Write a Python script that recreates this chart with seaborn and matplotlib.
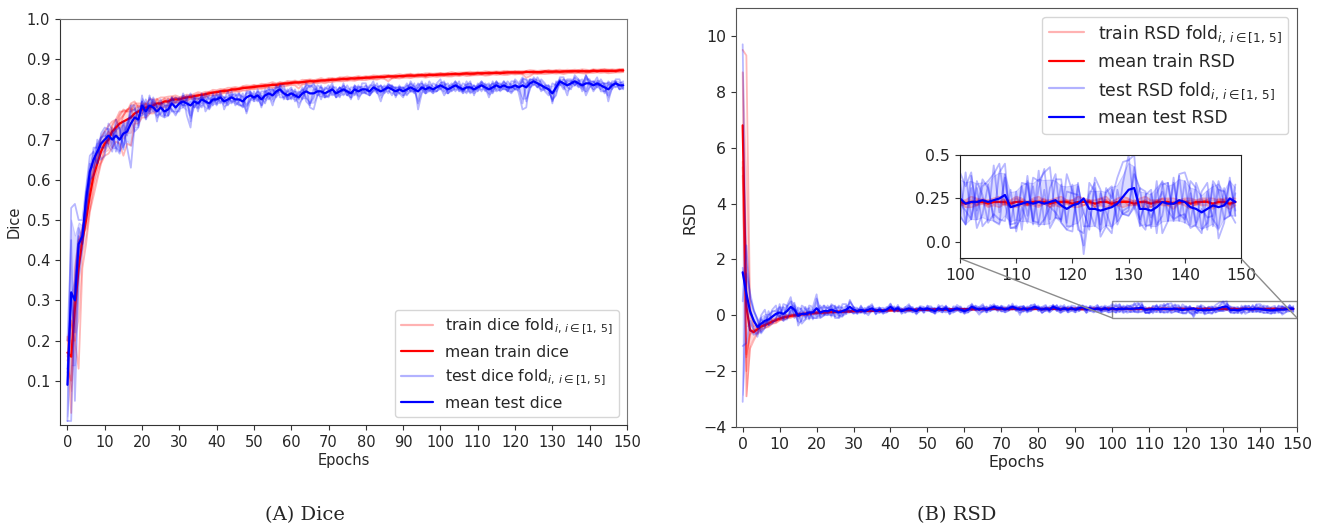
import numpy as np
import matplotlib
matplotlib.use("Agg")
import matplotlib.pyplot as plt
import seaborn as sns
from matplotlib.lines import Line2D
from mpl_toolkits.axes_grid1.inset_locator import mark_inset

EPOCHS = list(range(150))

# ---------------- Dice (panel A) ----------------
TRAIN_DICE_MEAN = [
    0.17, 0.16, 0.28, 0.38, 0.45, 0.50, 0.56, 0.61, 0.64, 0.67,
    0.69, 0.70, 0.72, 0.73, 0.74, 0.745, 0.75, 0.755, 0.765, 0.77,
    0.775, 0.78, 0.78, 0.785, 0.79, 0.79, 0.795, 0.795, 0.80, 0.80,
    0.80, 0.803, 0.805, 0.806, 0.808, 0.81, 0.811, 0.813, 0.815, 0.817,
    0.818, 0.82, 0.821, 0.822, 0.824, 0.825, 0.826, 0.828, 0.829, 0.83,
    0.831, 0.832, 0.833, 0.834, 0.835, 0.836, 0.836, 0.838, 0.839, 0.84,
    0.841, 0.842, 0.842, 0.843, 0.844, 0.845, 0.845, 0.846, 0.847, 0.847,
    0.848, 0.849, 0.849, 0.85, 0.851, 0.851, 0.852, 0.852, 0.853, 0.853,
    0.854, 0.854, 0.855, 0.855, 0.856, 0.856, 0.857, 0.857, 0.857, 0.858,
    0.858, 0.859, 0.859, 0.859, 0.86, 0.86, 0.86, 0.861, 0.861, 0.861,
    0.862, 0.862, 0.862, 0.863, 0.863, 0.863, 0.864, 0.864, 0.864, 0.864,
    0.865, 0.865, 0.865, 0.865, 0.866, 0.866, 0.866, 0.866, 0.867, 0.867,
    0.867, 0.867, 0.867, 0.868, 0.868, 0.868, 0.868, 0.868, 0.869, 0.869,
    0.869, 0.869, 0.869, 0.869, 0.87, 0.87, 0.87, 0.87, 0.87, 0.87,
    0.87, 0.871, 0.871, 0.871, 0.871, 0.871, 0.871, 0.871, 0.872, 0.872]

TEST_DICE_MEAN = [
    0.09, 0.32, 0.30, 0.44, 0.46, 0.55, 0.62, 0.65, 0.67, 0.69,
    0.70, 0.71, 0.70, 0.71, 0.70, 0.715, 0.72, 0.74, 0.755, 0.75,
    0.785, 0.77, 0.785, 0.78, 0.77, 0.78, 0.77, 0.775, 0.79, 0.78,
    0.79, 0.795, 0.79, 0.785, 0.795, 0.79, 0.80, 0.795, 0.79, 0.80,
    0.80, 0.805, 0.795, 0.80, 0.805, 0.80, 0.80, 0.795, 0.805, 0.81,
    0.805, 0.81, 0.80, 0.81, 0.815, 0.81, 0.82, 0.825, 0.815, 0.81,
    0.815, 0.81, 0.805, 0.815, 0.82, 0.815, 0.815, 0.82, 0.82, 0.815,
    0.82, 0.825, 0.815, 0.82, 0.825, 0.82, 0.815, 0.825, 0.82, 0.825,
    0.825, 0.82, 0.83, 0.825, 0.82, 0.825, 0.83, 0.825, 0.82, 0.825,
    0.82, 0.825, 0.83, 0.825, 0.82, 0.83, 0.825, 0.83, 0.825, 0.83,
    0.835, 0.83, 0.825, 0.83, 0.835, 0.83, 0.825, 0.83, 0.83, 0.825,
    0.83, 0.835, 0.83, 0.825, 0.83, 0.835, 0.83, 0.835, 0.83, 0.83,
    0.835, 0.83, 0.835, 0.83, 0.84, 0.845, 0.84, 0.835, 0.83, 0.825,
    0.815, 0.83, 0.845, 0.84, 0.835, 0.84, 0.845, 0.84, 0.835, 0.84,
    0.84, 0.835, 0.84, 0.835, 0.83, 0.825, 0.835, 0.84, 0.835, 0.835]

# per-fold offsets from the mean, in thousandths of Dice
TRAIN_DICE_FOLD1 = [
    40, -140, 100, 70, 30, 40, 50, 40, 30, 35,
    30, 35, 25, 20, 30, 25, 20, 15, 25, 20,
    15, 10, 20, 15, 10, 15, 10, 12, 8, 10,
    6, 5, 7, 4, 6, 8, 5, 6, 4, 7,
    5, 6, 4, 7, 5, 6, 3, 5, 6, 4,
    5, 3, 6, 4, 5, 7, 4, 5, 3, 6,
    4, 5, 3, 6, 4, 5, 3, 4, 6, 3,
    5, 4, 3, 5, 4, 6, 3, 4, 5, 3,
    4, 3, 5, 4, 3, 5, 4, 3, 4, 5,
    3, 4, 5, 3, 4, 3, 5, 4, 3, 4,
    4, 3, 4, 5, 3, 4, 3, 4, 5, 3,
    4, 3, 5, 4, 3, 4, 3, 5, 4, 3,
    4, 3, 4, 3, 5, 4, 3, 4, 3, 4,
    3, 4, 5, 3, 4, 3, 4, 3, 5, 4,
    3, 4, 3, 4, 5, 3, 4, 3, 4, 3]
TRAIN_DICE_FOLD2 = [
    30, 90, -80, -250, -70, -60, -40, -50, -40, -30,
    -30, -35, -40, -35, -50, -85, -60, -70, -25, -30,
    -20, -25, -15, -20, -15, -10, -15, -12, -10, -8,
    -8, -6, -9, -5, -7, -10, -6, -8, -5, -7,
    -6, -8, -5, -7, -6, -5, -8, -6, -7, -5,
    -6, -5, -7, -6, -5, -8, -6, -5, -7, -6,
    -5, -7, -15, -6, -5, -6, -4, -6, -5, -7,
    -5, -6, -4, -5, -6, -4, -5, -6, -4, -5,
    -6, -4, -5, -6, -4, -5, -12, -5, -4, -6,
    -4, -5, -6, -4, -5, -4, -6, -5, -4, -5,
    -5, -4, -5, -6, -4, -5, -4, -6, -5, -4,
    -5, -4, -6, -5, -4, -5, -4, -5, -6, -4,
    -5, -4, -5, -14, -10, -4, -5, -4, -6, -5,
    -4, -5, -4, -6, -5, -4, -5, -4, -5, -6,
    -4, -5, -4, -5, -4, -6, -5, -4, -5, -4]
TRAIN_DICE_FOLD3 = [
    -40, -60, 50, 40, 20, 30, 30, 20, 25, 20,
    10, -10, 15, 20, -10, 15, 25, 20, 10, 15,
    5, 10, -5, 8, -10, 5, 8, -5, 6, 4,
    2, -3, 3, -2, 1, 3, -2, 2, -1, 3,
    -2, 2, -3, 1, 2, -2, 3, -1, 2, -3,
    1, 2, -2, 3, -1, 2, -3, 1, 2, -2,
    3, -1, 2, -2, 1, 3, -2, 2, -1, 2,
    -2, 3, -1, 2, -3, 1, 2, -2, 3, -1,
    2, -2, 1, 3, -2, 2, -1, 2, -3, 1,
    2, -1, 3, -2, 1, 2, -2, 3, -1, 2,
    -2, 1, 3, -1, 2, -2, 1, 2, -3, 1,
    2, -2, 1, 3, -1, 2, -2, 1, 2, -1,
    3, -2, 1, 2, -1, 2, -3, 1, 2, -2,
    1, 3, -1, 2, -2, 1, 2, -1, 3, -2,
    1, 2, -2, 1, 3, -1, 2, -2, 1, 2]
TRAIN_DICE_FOLD4 = [
    -10, 60, 20, 70, 10, -20, -30, -20, -15, -25,
    -15, 20, -10, 5, 20, 30, 20, 35, 30, 10,
    10, -5, 10, -8, 12, -6, -4, 8, -6, 5,
    -4, 1, -3, 2, -5, -1, 3, -4, 2, -2,
    1, -4, 2, -3, 3, -1, -4, 2, -2, 1,
    -3, 2, -1, -4, 2, -2, 1, -3, 2, -1,
    -2, 2, -4, 1, -3, 2, -1, -3, 1, -2,
    2, -3, 1, -2, 2, -4, 1, -1, -3, 2,
    -2, 1, -3, 2, -1, -2, 2, -4, 1, -1,
    -3, 2, -1, 1, -2, 3, -3, 1, -2, 2,
    -1, -3, 2, -2, 1, -1, -3, 2, -1, -2,
    1, -3, 2, -1, -2, 1, -3, 2, -2, 1,
    -2, 1, -3, 2, -1, -2, 1, -3, 2, -1,
    -3, 1, -2, 2, -1, -3, 1, -2, 2, -1,
    -2, 1, -3, 2, -1, -2, 1, -2, 2, -1]
TRAIN_DICE_FOLD5 = [
    -20, 40, -80, 50, -10, 10, 20, 10, 20, 10,
    5, -10, 10, -10, 10, 15, 25, 25, -20, 5,
    -10, 8, -10, 5, 3, -4, 2, -3, 2, -6,
    3, 5, -1, 4, 2, -2, 3, 1, 4, -1,
    3, 1, 4, -1, 2, 3, 0, 4, 1, 2,
    4, 0, 3, 1, -1, 3, 2, 4, 0, 3,
    1, 3, 0, 2, 4, 1, 3, 0, 2, 1,
    3, 0, 2, 4, 1, 2, 0, 3, 1, 2,
    0, 3, 2, 1, 3, 0, 2, 1, 3, 0,
    2, 1, 3, 0, 2, 1, 3, 0, 2, 1,
    3, 0, 2, 1, 3, 1, 0, 2, 1, 3,
    0, 2, 1, 3, 0, 2, 1, 3, 0, 2,
    1, 3, 0, 2, 1, 3, 0, 2, 1, 3,
    0, 2, 1, 3, 0, 2, 1, 3, 0, 2,
    1, 3, 0, 2, 1, 3, 0, 2, 1, 3]

TEST_DICE_FOLD1 = [
    -90, 210, 240, 60, 40, 30, 40, 20, -30, 25,
    30, 15, -20, 40, 25, -35, 10, 45, 30, -15,
    25, -10, 20, 15, -25, 10, 20, -15, 5, 25,
    10, -15, 20, -40, 5, 15, -10, 20, 10, -5,
    15, -10, 5, 20, -15, 10, 15, -5, -35, 10,
    -10, 15, 5, -20, 10, 15, -5, 10, 20, -10,
    10, -15, 5, 15, -25, -30, 10, 5, -20, 15,
    5, 15, -10, 10, -5, 15, 5, -15, 10, 5,
    -10, 15, 5, -5, 15, -10, 5, 10, -15, 5,
    10, -5, 15, 5, -30, 10, -5, 15, 5, -10,
    5, 15, -10, 5, 10, -5, 15, 5, -10, 10,
    -5, 10, 5, 15, -10, 5, 10, -5, 15, 5,
    -10, 5, -45, 10, 5, -10, 15, 5, -5, 10,
    -25, 10, 5, -5, 15, 10, -10, 5, 15, -20,
    5, 10, -5, 15, 5, -15, 10, 5, -10, 5]
TEST_DICE_FOLD2 = [
    110, 130, -250, -90, -30, -30, -20, -40, 20, -40,
    -40, 30, 25, -30, -35, 20, -40, -110, -20, 30,
    -20, 30, -15, 25, 10, -20, -15, 25, -20, -10,
    -20, 15, -30, -55, 10, -20, 15, -25, -5, 15,
    -10, 15, -20, -5, 15, -15, -5, 20, -40, -15,
    15, -10, 20, 10, -15, 5, 15, -20, -10, 15,
    -15, 10, -25, -10, 15, -35, -40, -10, 15, -10,
    -10, 5, 15, -15, 10, -10, 15, 5, -10, 15,
    15, -10, -5, 15, -10, 5, -15, 10, 5, -10,
    -15, 10, -10, 15, -45, -15, 10, -10, 15, 5,
    -10, 5, 15, -10, -5, 15, -10, 5, 15, -15,
    10, -15, 10, -10, 15, -10, 5, 10, -10, 15,
    10, -15, -60, -50, 10, 5, -10, 15, 10, -5,
    -15, -20, 10, 15, -5, -15, 10, -10, 5, -30,
    -10, 5, 15, -10, 10, -30, -5, 10, 15, -10]
TEST_DICE_FOLD3 = [
    -90, -320, 40, 20, -20, 20, -30, 10, -30, 10,
    20, -25, -30, 15, 30, -40, 25, 20, -35, -20,
    10, -20, 25, -10, 15, 20, -10, -15, 15, 10,
    15, -10, 10, 30, -15, 5, -20, 10, -15, 10,
    -15, 5, 10, -15, 5, 15, -10, -15, 10, 5,
    -5, 10, -15, 5, 15, -10, 10, 5, -15, 10,
    15, -5, 10, -15, 5, 20, 15, -10, -5, 10,
    15, -10, 5, 10, -15, 5, -10, 10, 5, -10,
    -5, 10, 15, -10, 5, 10, -5, -15, 10, 5,
    5, 15, -10, -5, 20, -5, 15, -5, -10, 10,
    15, -10, 5, 10, -15, 5, -5, 15, -5, 10,
    -10, 5, -10, 5, 10, -15, -5, 10, 5, -10,
    15, 10, 20, -35, -15, 10, 5, -10, 5, 10,
    -20, 15, -10, 10, 5, -5, 15, 10, -15, 10,
    10, -10, 5, -15, -10, 10, 5, -10, 5, 10]
TEST_DICE_FOLD4 = [
    40, -20, 50, 40, -10, 20, 20, -20, 30, -10,
    -20, -10, 20, -40, 10, 30, -10, 30, 20, 10,
    -25, 15, -20, 10, -10, -15, 15, 10, -15, -20,
    -10, 20, 5, -25, 15, -10, 10, -5, 20, -15,
    10, -15, 10, 5, -10, -5, 15, 10, -20, -10,
    5, -15, 10, -10, -5, 15, -15, 10, 5, -10,
    -10, 15, -5, 10, -15, -25, -10, 15, 10, -5,
    -15, 5, -10, -5, 15, -10, 5, -10, 15, -5,
    10, -5, -10, 5, 15, -5, 10, 5, -10, 10,
    -10, -5, 10, -10, 10, 15, -10, 5, -5, -10,
    -5, 10, -10, -5, 10, -10, 5, -15, 10, -5,
    5, 10, -5, 10, -15, 10, -10, -5, -10, 5,
    -10, -5, 15, 20, -10, -5, -10, 5, -10, -15,
    25, 5, -5, -15, 10, 5, -10, 10, -5, 20,
    -5, 10, -10, 5, 10, 15, -10, 5, -10, -5]
TEST_DICE_FOLD5 = [
    30, 0, -80, -30, 20, -40, -10, 30, 10, 15,
    10, -10, 5, 15, -30, 0, 15, 15, 5, -5,
    10, -15, -10, 20, 10, 5, -10, 5, 15, -5,
    5, -10, -5, 10, -15, 10, 5, 0, -10, -5,
    0, 5, -5, -5, 5, -5, -15, -10, 15, 10,
    -5, 0, -20, 15, -5, -25, -5, -5, 0, -5,
    0, -5, 15, 0, 20, 15, 25, 0, 0, -10,
    5, -15, 0, 10, -5, 0, -15, 10, -20, -5,
    -10, -10, -5, -5, -25, 0, 5, 5, 10, -10,
    10, -15, -5, -5, 10, -5, -10, -5, -5, 5,
    -5, -20, 0, 0, 0, -5, -5, 0, -15, 0,
    0, 0, 0, -20, 0, 10, 0, -10, -5, -15,
    -5, 5, 10, 5, 10, 0, 0, -15, 0, 0,
    5, -10, 0, -5, -25, 5, -5, -5, 0, 20,
    0, -15, -5, 5, -15, 20, 0, 0, 0, 0]

# ---------------- RSD (panel B) ----------------
TRAIN_RSD_MEAN = [
    6.8, 0.3, -0.54, -0.6, -0.5, -0.4, -0.35, -0.3, -0.22, -0.18,
    -0.12, -0.08, -0.05, -0.02, 0.0, 0.02, 0.04, 0.05, 0.07, 0.08,
    0.09, 0.1, 0.1, 0.11, 0.12, 0.12, 0.13, 0.13, 0.14, 0.14,
    0.15, 0.15, 0.15, 0.16, 0.16, 0.16, 0.17, 0.17, 0.17, 0.18,
    0.18, 0.18, 0.18, 0.19, 0.19, 0.19, 0.19, 0.2, 0.2, 0.2,
    0.2, 0.2, 0.21, 0.21, 0.21, 0.21, 0.21, 0.21, 0.22, 0.22,
    0.22, 0.22, 0.22, 0.22, 0.22, 0.22, 0.22, 0.23, 0.23, 0.22,
    0.23, 0.23, 0.22, 0.23, 0.23, 0.23, 0.22, 0.23, 0.23, 0.23,
    0.23, 0.22, 0.23, 0.23, 0.23, 0.23, 0.22, 0.23, 0.23, 0.23,
    0.23, 0.23, 0.22, 0.23, 0.23, 0.23, 0.23, 0.22, 0.23, 0.23,
    0.23, 0.22, 0.23, 0.23, 0.23, 0.22, 0.23, 0.23, 0.23, 0.22,
    0.23, 0.23, 0.22, 0.23, 0.23, 0.23, 0.22, 0.23, 0.23, 0.23,
    0.22, 0.23, 0.23, 0.23, 0.22, 0.23, 0.23, 0.22, 0.23, 0.23,
    0.23, 0.22, 0.23, 0.23, 0.22, 0.23, 0.23, 0.23, 0.22, 0.23,
    0.23, 0.22, 0.23, 0.23, 0.23, 0.22, 0.23, 0.23, 0.22, 0.23]

TEST_RSD_MEAN = [
    1.54, 0.78, 0.15, -0.2, -0.42, -0.3, -0.2, -0.15, -0.05, 0.05,
    0.1, 0.05, 0.15, 0.3, 0.2, -0.02, 0.05, 0.05, 0.1, 0.1,
    0.25, 0.1, 0.15, 0.15, 0.2, 0.15, 0.1, 0.15, 0.2, 0.3,
    0.2, 0.15, 0.2, 0.15, 0.2, 0.25, 0.15, 0.2, 0.15, 0.2,
    0.3, 0.2, 0.25, 0.15, 0.2, 0.25, 0.2, 0.15, 0.25, 0.2,
    0.25, 0.2, 0.15, 0.25, 0.2, 0.25, 0.15, 0.2, 0.25, 0.2,
    0.15, 0.2, 0.3, 0.25, 0.2, 0.25, 0.2, 0.25, 0.3, 0.25,
    0.25, 0.2, 0.25, 0.3, 0.25, 0.2, 0.25, 0.2, 0.25, 0.3,
    0.25, 0.2, 0.25, 0.2, 0.3, 0.25, 0.2, 0.25, 0.2, 0.25,
    0.2, 0.25, 0.3, 0.2, 0.25, 0.2, 0.25, 0.2, 0.25, 0.2,
    0.25, 0.22, 0.23, 0.23, 0.24, 0.23, 0.24, 0.25, 0.27, 0.2,
    0.21, 0.22, 0.23, 0.22, 0.23, 0.22, 0.23, 0.24, 0.21, 0.19,
    0.21, 0.22, 0.25, 0.19, 0.19, 0.18, 0.19, 0.2, 0.22, 0.26,
    0.3, 0.31, 0.19, 0.19, 0.18, 0.2, 0.23, 0.22, 0.22, 0.24,
    0.23, 0.2, 0.19, 0.17, 0.19, 0.21, 0.2, 0.21, 0.25, 0.23]

# per-fold offsets from the mean, in hundredths of RSD
TRAIN_RSD_FOLD1 = [
    270, 900, 85, 20, 15, 10, 12, 8, 10, 6,
    8, 5, 7, 4, 6, 5, 4, 6, 3, 5,
    4, 3, 5, 3, 4, 2, 3, 4, 2, 3,
    2, 3, 1, 2, 3, 2, 1, 3, 2, 2,
    3, 1, 2, 2, 3, 1, 2, 3, 2, 1,
    2, 3, 2, 1, 2, 3, 1, 2, 2, 3,
    1, 2, 3, 2, 1, 2, 3, 2, 1, 2,
    3, 2, 1, 2, 2, 3, 1, 2, 3, 2,
    1, 2, 2, 3, 1, 2, 3, 2, 1, 2,
    2, 3, 1, 2, 3, 2, 1, 2, 2, 3,
    1, 2, 3, 2, 1, 2, 2, 3, 1, 2,
    3, 2, 1, 2, 3, 1, 2, 2, 3, 1,
    2, 3, 2, 1, 2, 2, 3, 1, 2, 3,
    2, 1, 2, 3, 2, 1, 2, 2, 3, 1,
    2, 3, 1, 2, 2, 3, 1, 2, 3, 2]
TRAIN_RSD_FOLD2 = [
    190, -320, -65, -30, -15, -12, -10, -12, -8, -10,
    -6, -8, -5, -7, -4, -6, -5, -4, -6, -3,
    -4, -3, -5, -2, -4, -3, -2, -4, -3, -2,
    -2, -3, -1, -2, -3, -2, -1, -3, -2, -2,
    -3, -1, -2, -2, -3, -1, -2, -3, -2, -1,
    -2, -3, -2, -1, -2, -3, -1, -2, -2, -3,
    -1, -2, -3, -2, -1, -2, -3, -2, -1, -2,
    -3, -2, -1, -2, -2, -3, -1, -2, -3, -2,
    -1, -2, -2, -3, -1, -2, -3, -2, -1, -2,
    -2, -3, -1, -2, -3, -2, -1, -2, -2, -3,
    -1, -2, -3, -2, -1, -2, -2, -3, -1, -2,
    -3, -2, -1, -2, -3, -1, -2, -2, -3, -1,
    -2, -3, -2, -1, -2, -2, -3, -1, -2, -3,
    -2, -1, -2, -3, -2, -1, -2, -2, -3, -1,
    -2, -3, -1, -2, -2, -3, -1, -2, -3, -2]
TRAIN_RSD_FOLD3 = [
    -130, -230, -5, 10, -10, 8, -6, 5, -4, 6,
    -5, 4, -3, 5, -4, 3, -2, 4, -3, 2,
    3, -2, 2, -3, 1, 2, -2, 1, 2, -1,
    1, -1, 2, 0, -2, 1, -1, 2, 0, -1,
    2, 0, -1, 1, -2, 2, 0, -1, 1, 0,
    -1, 2, 0, -2, 1, -1, 2, 0, -1, 1,
    0, -2, 1, 2, -1, 0, 1, -2, 2, 0,
    -1, 1, 0, 2, -2, 1, -1, 0, 2, -1,
    1, 0, -2, 1, 2, -1, 0, 1, -2, 2,
    0, -1, 1, 0, 2, -2, 1, -1, 0, 2,
    -1, 1, 0, -2, 2, 1, -1, 0, 1, -2,
    2, 0, -1, 1, 0, 2, -2, 1, -1, 0,
    2, -1, 1, 0, -2, 2, 1, -1, 0, 1,
    -2, 2, 0, -1, 1, 0, 2, -2, 1, -1,
    0, 2, -1, 1, 0, -2, 2, 1, -1, 0]
TRAIN_RSD_FOLD4 = [
    -150, -180, 5, -5, 12, -6, 8, -4, 6, -5,
    4, -3, 5, -2, 3, -4, 2, -3, 4, -2,
    -3, 2, -2, 3, -1, -2, 2, -1, -2, 1,
    -1, 0, -2, 1, 1, -1, 0, -2, 1, 0,
    -1, 1, 0, -2, 1, -1, 0, 1, -2, 0,
    1, -1, 0, 1, -2, 0, -1, 1, 0, -2,
    1, 0, -1, -2, 1, 0, -1, 1, 0, -1,
    1, -2, 0, -1, 1, 0, -2, 1, -1, 0,
    -1, 1, 0, -2, 0, 1, -1, 0, 1, -2,
    0, 1, -1, 0, -2, 1, 0, -1, 1, 0,
    -2, 0, 1, -1, 0, -1, 1, 0, -2, 1,
    0, -1, 1, 0, -2, 0, 1, -1, 0, 1,
    -1, 0, -2, 1, 0, -1, 0, 1, -2, 0,
    1, -1, 0, 1, -2, 0, -1, 1, 0, -1,
    1, 0, -2, 0, 1, -1, 0, -1, 1, 0]
TRAIN_RSD_FOLD5 = [
    -180, -170, -15, 5, -2, 0, -4, 3, -4, 3,
    -1, 2, -4, 0, -1, 2, 1, -3, 2, -2,
    0, 0, 0, -1, 0, 1, -1, 0, 1, -1,
    0, 1, 0, -1, 1, 0, 1, -1, 0, 1,
    -1, 0, 1, 0, 1, -1, 0, 0, 1, 0,
    0, -1, 1, 0, 1, 0, -1, 0, 1, 1,
    -1, 1, 0, 0, 1, 0, 0, -1, 1, 0,
    1, 0, -1, 1, 0, 0, 1, -1, 0, 1,
    0, -1, 1, 0, 0, 1, 0, -1, 1, 0,
    1, 0, 0, -1, 1, 0, 1, 0, -1, 0,
    1, 0, -1, 1, 0, 1, 0, 0, -1, 1,
    0, 1, -1, 0, 1, 0, 0, -1, 1, 0,
    1, -1, 0, 1, 0, 0, 1, -1, 0, 1,
    0, 0, -1, 1, 0, 1, 0, -1, 1, 0,
    0, 1, -1, 0, 1, 0, 0, 1, -1, 0]

TEST_RSD_FOLD1 = [
    816, -38, -65, -50, -20, 30, 40, -20, 25, 30,
    -25, 35, 20, 35, -20, 30, 15, -10, 25, 20,
    50, -15, 20, 10, 15, -20, 25, 10, -15, 20,
    10, -10, 15, -5, 10, 15, -10, 5, 12, -8,
    10, -5, 12, -10, 8, 15, -8, 10, 5, -12,
    8, 12, -10, 5, 15, -8, 10, -5, 12, 8,
    -10, 12, 8, -5, 10, 15, -8, 5, 10, -12,
    8, 10, -5, 12, -8, 10, 5, -10, 12, 8,
    -8, 10, 12, -5, 8, -10, 15, 5, -8, 10,
    12, -8, 5, 10, -10, 8, 12, -5, 10, 8,
    15, 10, 17, -10, 8, 12, 15, 20, -5, -12,
    -13, 10, -8, 15, 12, 18, 20, -10, -8, 20,
    8, -12, -27, 15, 10, -8, 12, 5, 15, 20,
    17, 19, -10, 8, 12, -15, 10, 12, -8, 15,
    17, 10, -8, 12, 15, -12, 10, 8, -10, 5]
TEST_RSD_FOLD2 = [
    -464, 72, 65, 40, 25, -35, -25, 30, -20, -25,
    30, -20, -30, -10, 25, -35, -20, 25, -20, 15,
    -20, 25, -10, -15, 20, 15, -10, -20, 15, -15,
    -12, 8, -10, 12, -8, -10, 8, -12, 5, 10,
    -8, 12, -10, 8, -12, -5, 10, -8, -10, 8,
    -10, -5, 12, -8, -10, 10, -12, 8, -5, -10,
    12, -8, -10, 8, -5, -12, 10, -8, -10, 8,
    -10, -8, 12, -10, 5, -8, -10, 12, -8, -5,
    10, -12, -5, 8, -10, 12, -8, -10, 10, -8,
    -10, 12, -8, -10, 8, -5, -12, 10, -8, -10,
    -12, 18, -10, 8, -15, -10, 20, -8, 12, -10,
    8, -15, 12, -10, 18, -12, 8, 15, -10, -12,
    -15, 10, -8, -12, 18, 12, -10, -15, 8, -10,
    -12, 8, 12, -10, -8, 15, -18, -10, 12, -8,
    -10, 15, 12, -10, -8, 12, -18, -10, 12, -8]
TEST_RSD_FOLD3 = [
    -264, -178, -35, -30, -35, 20, -20, 15, 20, 10,
    -10, -25, 15, 20, -30, 20, -35, -20, 15, -25,
    35, -20, -15, 20, -25, 10, 20, -15, -10, 25,
    8, 12, -8, 5, 12, -10, 10, 8, -10, 5,
    12, -8, 5, 10, -8, 10, 5, -12, 8, 10,
    -5, 8, 10, -12, 5, 8, -10, 12, 5, -8,
    8, 5, -12, 10, 8, -5, 12, -10, 5, 8,
    -12, 5, 8, -8, 10, 5, -12, 8, 10, -5,
    5, 8, -10, 12, 5, -8, 10, -5, 12, 5,
    -8, 10, 5, -12, 8, 10, -5, 12, 5, -8,
    10, -12, 15, -5, 12, 8, -10, 15, 18, -10,
    -10, 12, 10, -12, 8, 20, -10, 12, 15, -8,
    12, -15, -20, 8, 15, -12, 10, 12, -10, 8,
    20, -12, 12, 10, -10, 8, 12, -10, 15, -12,
    12, -10, 15, 8, -12, 14, 10, -8, -10, 10]
TEST_RSD_FOLD4 = [
    -104, 172, 45, 35, 30, -30, 15, -20, -25, -15,
    20, -15, 20, -30, 15, -20, 30, 20, -25, 10,
    -30, 15, 20, -10, -20, 20, -15, 25, 20, -20,
    10, -8, 12, -10, 5, 10, -12, 8, -5, -10,
    -10, 8, -12, 5, 10, -8, -10, 12, -5, -8,
    10, -8, -5, 12, -8, 5, 10, -10, -8, 12,
    -5, -10, 12, -8, 5, 10, -10, 12, -8, -5,
    10, -10, -8, 5, -10, 12, 8, -5, -10, 10,
    -10, 5, 8, -10, -8, 10, -5, 12, -10, -8,
    8, -10, -5, 12, -8, -10, 10, -8, -10, 12,
    -10, -12, 8, -15, -8, 10, -12, -15, 10, -12,
    -12, -8, 15, -10, -12, 8, -15, -10, 12, -10,
    -12, 12, -16, -10, 12, -15, -10, 10, -12, -8,
    -10, 12, -8, -12, 10, -10, -8, 12, -10, 14,
    -12, 8, -10, -12, 10, -8, -12, 10, -8, -12]
TEST_RSD_FOLD5 = [
    16, -28, -10, 5, 0, 15, -10, -5, 0, 0,
    -15, 25, -25, -15, 10, 5, 10, -15, 5, -20,
    -35, -5, -15, -5, 10, -25, -20, 0, -10, -10,
    -15, -2, -10, -2, -20, -5, 4, -9, -2, 3,
    -4, -7, 5, -3, 2, -12, 3, -2, 2, 2,
    -3, -7, -7, 3, -2, -15, 2, -5, -4, -2,
    -5, 1, 2, -5, -18, -8, -4, 1, 3, 1,
    4, 3, -7, 1, 3, -19, 9, -5, -4, -8,
    3, -11, -5, -5, 5, -4, -12, -2, -4, 1,
    -2, -4, 3, 0, 2, -3, -5, -9, 3, -2,
    -3, -4, -10, 12, 3, -12, -8, -12, -15, 10,
    -15, -2, -12, 10, -14, -9, -3, -7, -9, 10,
    7, 5, -32, -1, -10, 10, -2, -12, -1, -10,
    -15, -10, -6, 4, -4, 2, 6, -4, -9, -9,
    -7, -12, -9, 2, -5, -6, 15, 0, 10, -5]

LEGEND_A = [r"train dice fold$_{i,\,i\in[1,\,5]}$", "mean train dice",
            r"test dice fold$_{i,\,i\in[1,\,5]}$", "mean test dice"]
LEGEND_B = [r"train RSD fold$_{i,\,i\in[1,\,5]}$", "mean train RSD",
            r"test RSD fold$_{i,\,i\in[1,\,5]}$", "mean test RSD"]

RED = "#ff0000"
BLUE = "#0000ff"

x = np.array(EPOCHS)


def folds_of(mean, offsets, scale):
    m = np.array(mean, dtype=float)
    return m, [m + np.array(o, dtype=float) / scale for o in offsets]


def draw(ax, mean, folds, color, lw_fold=1.3, lw_mean=1.6):
    for f in folds:
        sns.lineplot(x=x, y=f, ax=ax, color=color, alpha=0.28, lw=lw_fold, legend=False)
    stack = np.vstack(folds)
    sd = np.std(stack, axis=0)
    lo = np.maximum(mean - sd, stack.min(axis=0))
    hi = np.minimum(mean + sd, stack.max(axis=0))
    ax.fill_between(x, lo, hi, color=color, alpha=0.14, lw=0.8)
    sns.lineplot(x=x, y=mean, ax=ax, color=color, lw=lw_mean, legend=False)


sns.set_style("ticks")
plt.rcParams["font.family"] = ["DejaVu Sans"]

fig = plt.figure(figsize=(13.3, 5.3), dpi=100)
axA = fig.add_axes([0.0451, 0.1981, 0.4263, 0.766])
axB = fig.add_axes([0.5534, 0.1943, 0.4218, 0.7906])

trd_m, trd_f = folds_of(TRAIN_DICE_MEAN, [TRAIN_DICE_FOLD1, TRAIN_DICE_FOLD2, TRAIN_DICE_FOLD3,
                                          TRAIN_DICE_FOLD4, TRAIN_DICE_FOLD5], 1000.0)
ted_m, ted_f = folds_of(TEST_DICE_MEAN, [TEST_DICE_FOLD1, TEST_DICE_FOLD2, TEST_DICE_FOLD3,
                                         TEST_DICE_FOLD4, TEST_DICE_FOLD5], 1000.0)
trr_m, trr_f = folds_of(TRAIN_RSD_MEAN, [TRAIN_RSD_FOLD1, TRAIN_RSD_FOLD2, TRAIN_RSD_FOLD3,
                                         TRAIN_RSD_FOLD4, TRAIN_RSD_FOLD5], 100.0)
ter_m, ter_f = folds_of(TEST_RSD_MEAN, [TEST_RSD_FOLD1, TEST_RSD_FOLD2, TEST_RSD_FOLD3,
                                        TEST_RSD_FOLD4, TEST_RSD_FOLD5], 100.0)

handles = [Line2D([], [], color=RED, alpha=0.3, lw=1.6), Line2D([], [], color=RED, lw=1.6),
           Line2D([], [], color=BLUE, alpha=0.3, lw=1.6), Line2D([], [], color=BLUE, lw=1.6)]

# ---- panel A
draw(axA, trd_m, trd_f, RED)
draw(axA, ted_m, ted_f, BLUE)
axA.set_xlim(-2, 150)
axA.set_ylim(-0.01, 1.0)
axA.set_xticks(range(0, 151, 10))
axA.set_yticks([0.1, 0.2, 0.3, 0.4, 0.5, 0.6, 0.7, 0.8, 0.9, 1.0])
axA.tick_params(labelsize=10.5, length=3.5, width=0.8, color="#333333")
axA.set_xlabel("Epochs", fontsize=10.5, labelpad=2)
axA.set_ylabel("Dice", fontsize=10.5, labelpad=4)
for s in ("left", "bottom"):
    axA.spines[s].set_color("#333333")
for s in ("top", "right"):
    axA.spines[s].set_color("#777777")
    axA.spines[s].set_visible(True)
axA.legend(handles, LEGEND_A, loc="lower right", fontsize=11.3, frameon=True,
           framealpha=0.8, edgecolor="#cccccc", fancybox=True)

# ---- panel B
draw(axB, trr_m, trr_f, RED)
draw(axB, ter_m, ter_f, BLUE)
axB.set_xlim(-1.8, 150)
axB.set_ylim(-4, 11)
axB.set_xticks(range(0, 151, 10))
axB.set_yticks([-4, -2, 0, 2, 4, 6, 8, 10])
axB.tick_params(labelsize=11.3, length=3.5, width=0.8, color="#333333")
axB.set_xlabel("Epochs", fontsize=11.3, labelpad=2)
axB.set_ylabel("RSD", fontsize=11.3, labelpad=4)
for s in axB.spines.values():
    s.set_visible(True)
    s.set_color("#555555")
axB.legend(handles, LEGEND_B, loc="upper right", fontsize=12.4, frameon=True,
           framealpha=0.8, edgecolor="#cccccc", fancybox=True)

# inset
axI = fig.add_axes([0.7218, 0.5123, 0.2113, 0.1953])
draw(axI, trr_m, trr_f, RED)
draw(axI, ter_m, ter_f, BLUE)
axI.set_xlim(100, 150)
axI.set_ylim(-0.095, 0.5)
axI.set_xticks(range(100, 151, 10))
axI.set_yticks([0.0, 0.25, 0.5])
axI.set_yticklabels(["0.0", "0.25", "0.5"])
axI.set_xlabel("")
axI.set_ylabel("")
axI.tick_params(labelsize=11.3, length=3.5, width=0.8, color="#333333")
for s in axI.spines.values():
    s.set_visible(True)
    s.set_color("#222222")
mark_inset(axB, axI, loc1=3, loc2=4, fc="none", ec="0.55", lw=1.0)

# captions
fig.text(0.229, 0.028, "(A) Dice", ha="center", va="center", family="DejaVu Serif", fontsize=14)
fig.text(0.7195, 0.028, "(B) RSD", ha="center", va="center", family="DejaVu Serif", fontsize=14)

fig.savefig("out.png", dpi=100)
